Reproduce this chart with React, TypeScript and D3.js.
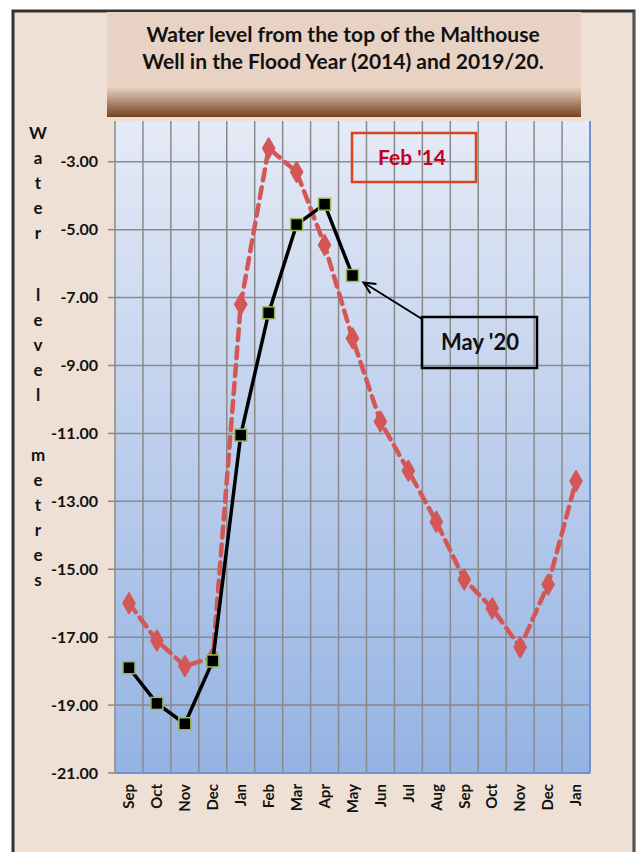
import React from "react";
import * as d3 from "d3";

// months on the x axis (Sep .. Jan of the following year)
const months = ["Sep", "Oct", "Nov", "Dec", "Jan", "Feb", "Mar", "Apr", "May", "Jun", "Jul", "Aug", "Sep", "Oct", "Nov", "Dec", "Jan"];
// flood year 2014, metres below the top of the well
const level2014 = [-16.0, -17.1, -17.85, -17.6, -7.2, -2.6, -3.3, -5.45, -8.2, -10.65, -12.1, -13.6, -15.3, -16.15, -17.3, -15.45, -12.4];
// 2019/20
const level2020 = [-17.9, -18.95, -19.55, -17.7, -11.05, -7.45, -4.85, -4.25, -6.35];
const yTicks = [-3, -5, -7, -9, -11, -13, -15, -17, -19, -21];
const axisWords = ["Water", "level", "metres"];

const W = 636;
const H = 852;
const font = "Lato, 'Open Sans', sans-serif";

function App() {
  const left = 115, right = 590, top = 121, bottom = 773;
  const x = d3.scaleBand<number>().domain(months.map((_, i) => i)).range([left, right]).padding(0);
  const y = d3.scaleLinear().domain([-21, -1.8]).range([bottom, top]);
  const cx = (i: number) => (x(i) as number) + x.bandwidth() / 2;

  const line = d3.line<number>().x((_, i) => cx(i)).y((d) => y(d));
  const diamond = d3.symbol().type(d3.symbolDiamond).size(115)();

  // vertical gridlines at category edges
  const vLines = months.map((_, i) => x(i) as number).slice(1);

  const wordStarts = [133, 295, 455];

  // arrow from May '20 box to the May marker
  const ax1 = 422, ay1 = 319;
  const ax2 = cx(8) + 11, ay2 = y(level2020[8]) + 7;
  const ang = Math.atan2(ay1 - ay2, ax1 - ax2);
  const head = (da: number) => [ax2 + 13 * Math.cos(ang + da), ay2 + 13 * Math.sin(ang + da)];
  const h1 = head(0.45), h2 = head(-0.45);

  return (
    <svg width={W} height={H} style={{ position: "absolute", left: 0, top: 0, background: "#fff" }}>
      <defs>
        <linearGradient id="plotBg" x1="0" y1="0" x2="0" y2="1">
          <stop offset="0%" stopColor="#e5eaf6" />
          <stop offset="100%" stopColor="#94b3e3" />
        </linearGradient>
        <linearGradient id="titleShade" x1="0" y1="0" x2="0" y2="1">
          <stop offset="0%" stopColor="#e8d2c4" />
          <stop offset="100%" stopColor="#76421f" />
        </linearGradient>
      </defs>

      {/* frame */}
      <rect x={13} y={11} width={621} height={H} fill="#eee0d5" stroke="#333" strokeWidth={3} />
      <line x1={634} y1={11} x2={634} y2={H} stroke="#777" strokeWidth={1} />

      {/* title box */}
      <rect x={107} y={12} width={474} height={105} fill="#e8d2c4" />
      <rect x={107} y={87} width={474} height={30} fill="url(#titleShade)" />
      <text x={343} y={42} textAnchor="middle" fontFamily={font} fontWeight="bold" fontSize={21} fill="#111">
        Water level from the top of the Malthouse
      </text>
      <text x={343} y={69} textAnchor="middle" fontFamily={font} fontWeight="bold" fontSize={21} fill="#111">
        Well in the Flood Year (2014) and 2019/20.
      </text>

      {/* plot area */}
      <rect x={left} y={top} width={right - left} height={bottom - top} fill="url(#plotBg)" />
      {yTicks.slice(0, -1).map((t) => (
        <line key={"h" + t} x1={left} x2={right} y1={y(t)} y2={y(t)} stroke="#8a8a8a" strokeWidth={1.5} />
      ))}
      {vLines.map((v, i) => (
        <line key={"v" + i} x1={v} x2={v} y1={top} y2={bottom} stroke="#8a8a8a" strokeWidth={1.5} />
      ))}
      <line x1={right} x2={right} y1={top} y2={bottom} stroke="#6f93cf" strokeWidth={2} />
      <line x1={left} x2={right} y1={bottom} y2={bottom} stroke="#6f93cf" strokeWidth={2} />
      <line x1={left} x2={left} y1={top} y2={bottom} stroke="#8a8a8a" strokeWidth={1.5} />

      {/* y axis */}
      {yTicks.map((t) => (
        <g key={"t" + t}>
          <line x1={108} x2={left} y1={y(t)} y2={y(t)} stroke="#8a8a8a" strokeWidth={1.5} />
          <text x={98} y={y(t)} dy="0.35em" textAnchor="end" fontFamily={font} fontWeight="bold" fontSize={16} fill="#111">
            {t.toFixed(2)}
          </text>
        </g>
      ))}
      {axisWords.map((w, wi) =>
        w.split("").map((ch, ci) => (
          <text key={wi + "-" + ci} x={38} y={wordStarts[wi] + ci * 25} dy="0.35em" textAnchor="middle"
            fontFamily={font} fontWeight="bold" fontSize={17} fill="#111">
            {ch}
          </text>
        ))
      )}

      {/* x axis labels */}
      {months.map((m, i) => (
        <text key={"m" + i} transform={`translate(${cx(i)},784) rotate(-90)`} dy="0.35em" textAnchor="end"
          fontFamily={font} fontWeight="bold" fontSize={15} fill="#111">
          {m}
        </text>
      ))}

      {/* 2014 series */}
      <path d={line(level2014) || ""} fill="none" stroke="#d45757" strokeWidth={4.5} strokeDasharray="11,7" strokeLinecap="round" />
      {level2014.map((v, i) => (
        <path key={"d" + i} d={diamond || ""} transform={`translate(${cx(i)},${y(v)})`} fill="#d45757"
          stroke="#d45757" strokeWidth={2} strokeLinejoin="round" />
      ))}

      {/* 2019/20 series */}
      <path d={line(level2020) || ""} fill="none" stroke="#000" strokeWidth={3.5} />
      {level2020.map((v, i) => (
        <rect key={"s" + i} x={cx(i) - 6} y={y(v) - 6} width={12} height={12} fill="#000" stroke="#9bbb59" strokeWidth={1.5} />
      ))}

      {/* annotations */}
      <rect x={352} y={133} width={124} height={49} fill="none" stroke="#d9441c" strokeWidth={2.5} />
      <text x={412} y={165} textAnchor="middle" fontFamily={font} fontWeight="bold" fontSize={21} fill="#c4001e">
        Feb '14
      </text>

      <line x1={ax1} y1={ay1} x2={ax2} y2={ay2} stroke="#000" strokeWidth={2} />
      <polyline points={`${h1[0]},${h1[1]} ${ax2},${ay2} ${h2[0]},${h2[1]}`} fill="none" stroke="#000" strokeWidth={2} />
      <rect x={422} y={317} width={115} height={51} fill="none" stroke="#000" strokeWidth={2.5} />
      <text x={480} y={350} textAnchor="middle" fontFamily={font} fontWeight="bold" fontSize={22} fill="#111">
        May '20
      </text>
    </svg>
  );
}

export default App;
